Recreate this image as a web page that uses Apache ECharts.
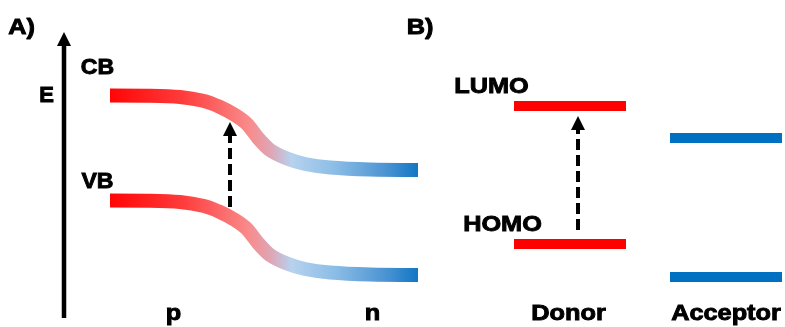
<!DOCTYPE html>
<html>
<head>
<meta charset="utf-8">
<script src="https://cdn.jsdelivr.net/npm/echarts@6/dist/echarts.min.js"></script>
<style>html,body{margin:0;padding:0;background:#fff}#c{width:785px;height:327px}</style>
</head>
<body>
<div id="c"></div>
<script>
// Panel A: band bending across the p-n junction (position x, energy E)
var bandX = [110, 150, 180, 203, 220, 235, 247, 258, 270, 287, 305, 330, 370, 418];
var cbEnergy = [231.5, 231.3, 230, 226.2, 220, 212, 203, 189, 177, 168.5, 163, 159.5, 157.5, 157];
var vbEnergy = [126.5, 126.3, 125, 121.2, 115, 107, 98, 84, 72, 63.5, 58, 54.5, 52.5, 52];
var transitionA = [[230, 120], [230, 198]];      // VB -> CB excitation arrow
var energyAxisArrow = [[64, 9], [64, 288]];

// Panel B: molecular orbital levels
var donorX = [514, 626];
var acceptorX = [670, 782];
var donorLUMO = 221, donorHOMO = 83;
var acceptorLUMO = 189, acceptorHOMO = 50;
var transitionB = [[578, 97], [578, 204]];

var RED = '#ff0000', BLUE = '#0070c0';

function zip(xs, ys) { return xs.map(function (x, i) { return [x, ys[i]]; }); }
function level(xs, e) { return xs.map(function (x) { return [x, e]; }); }
function arrowData(pts) {
  return [{ value: pts[0], symbol: 'none' }, { value: pts[1], symbol: 'triangle', symbolSize: [14, 14] }];
}

var grad = new echarts.graphic.LinearGradient(0, 0, 1, 0, [
  { offset: 0, color: '#ff0000' },
  { offset: 0.25, color: '#ff3c3c' },
  { offset: 0.45, color: '#f98a8a' },
  { offset: 0.52, color: '#dfa5b5' },
  { offset: 0.585, color: '#b6d2ee' },
  { offset: 0.72, color: '#8cbde6' },
  { offset: 0.88, color: '#4a93d2' },
  { offset: 1, color: '#0570c0' }
]);

function bandSeries(data) {
  return {
    type: 'line', data: data, smooth: 0.25, showSymbol: false, silent: true,
    lineStyle: { width: 14, color: grad, cap: 'butt', join: 'round' }
  };
}
function levelSeries(data, color) {
  return {
    type: 'line', data: data, showSymbol: false, silent: true,
    lineStyle: { width: 10, color: color, cap: 'butt' }
  };
}
function arrowSeries(data, dashed, width) {
  return {
    type: 'line', data: arrowData(data), silent: true, showSymbol: true,
    itemStyle: { color: '#000' },
    lineStyle: { width: width, color: '#000', type: dashed ? [11, 5] : 'solid', cap: 'butt' }
  };
}

function txt(t, x, y, sx) {
  return {
    type: 'text', x: x, y: y, scaleX: sx || 1.15, silent: true,
    style: {
      text: t, x: 0, y: 0, fontSize: 22, fontWeight: 'bold',
      fontFamily: '"Liberation Sans", Arial, sans-serif',
      fill: '#000', stroke: '#000', lineWidth: 0.9,
      align: 'center', verticalAlign: 'middle'
    }
  };
}

var chart = echarts.init(document.getElementById('c'), null, { renderer: 'canvas' });
chart.setOption({
  animation: false,
  backgroundColor: '#fff',
  grid: { left: 0, right: 0, top: 0, bottom: 0 },
  xAxis: { type: 'value', min: 0, max: 785, show: false },
  yAxis: { type: 'value', min: 0, max: 327, show: false },
  series: [
    arrowSeries(energyAxisArrow, false, 4.5),
    bandSeries(zip(bandX, cbEnergy)),
    bandSeries(zip(bandX, vbEnergy)),
    arrowSeries(transitionA, true, 4),
    levelSeries(level(donorX, donorLUMO), RED),
    levelSeries(level(donorX, donorHOMO), RED),
    levelSeries(level(acceptorX, acceptorLUMO), BLUE),
    levelSeries(level(acceptorX, acceptorHOMO), BLUE),
    arrowSeries(transitionB, true, 4)
  ],
  graphic: [
    txt('A)', 21.5, 28),
    txt('E', 46.5, 96, 1.0),
    txt('CB', 97.5, 67.5, 1.05),
    txt('VB', 97.5, 182, 1.05),
    txt('p', 173.5, 314),
    txt('n', 372.5, 314),
    txt('B)', 420, 28),
    txt('LUMO', 491.5, 87),
    txt('HOMO', 502.5, 225),
    txt('Donor', 568.5, 314),
    txt('Acceptor', 726, 314)
  ]
});
</script>
</body>
</html>
